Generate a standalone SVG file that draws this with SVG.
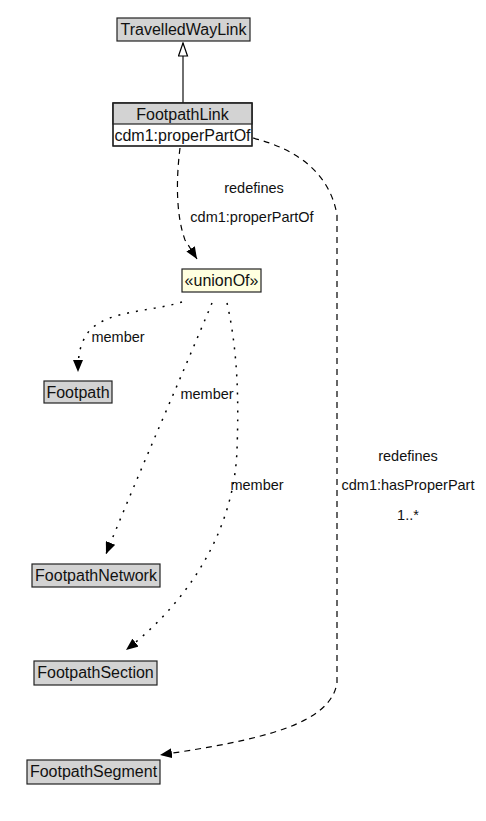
<svg xmlns="http://www.w3.org/2000/svg" width="486" height="821" viewBox="0 0 486 821">
<defs>
<style>
.node rect{stroke:#222;stroke-width:1.2}
.cls{fill:#d3d3d3}
.t{font-family:"Liberation Sans",Arial,sans-serif;font-size:16px;fill:#111;text-anchor:middle}
.l{font-family:"Liberation Sans",Arial,sans-serif;font-size:14.5px;fill:#111;text-anchor:middle}
.dash{fill:none;stroke:#000;stroke-width:1.2;stroke-dasharray:6,5}
.dot{fill:none;stroke:#000;stroke-width:1.5;stroke-dasharray:2,7}
</style>
<marker id="arr" viewBox="0 0 12 10" refX="12" refY="5" markerWidth="12" markerHeight="10" markerUnits="userSpaceOnUse" orient="auto">
<path d="M0,0 L12,5 L0,10 z" fill="#000"/>
</marker>
<marker id="gen" viewBox="0 0 15 11" refX="14" refY="5.5" markerWidth="15" markerHeight="11" markerUnits="userSpaceOnUse" orient="auto">
<path d="M1,1 L14,5.5 L1,10 z" fill="#fff" stroke="#000" stroke-width="1.2"/>
</marker>
</defs>
<rect width="486" height="821" fill="#fff"/>
<g id="connectors">
<path d="M183,103 L183,43" fill="none" stroke="#333" stroke-width="1.4" marker-end="url(#gen)"/>
<path class="dash" d="M180,148 C176,180 176,215 185,240 L197,259" marker-end="url(#arr)"/>
<path class="dash" d="M253,138 C300,150 330,175 337,215 L337,683 C330,725 260,740 160,755" marker-end="url(#arr)"/>
<path class="dot" d="M182,302 C150,312 110,310 90,330 C80,342 78,355 78,372" marker-end="url(#arr)"/>
<path class="dot" d="M212,303 C180,380 140,470 106,554" marker-end="url(#arr)"/>
<path class="dot" d="M227,303 C240,360 238,420 237,450 C234,530 190,600 126,650" marker-end="url(#arr)"/>
</g>
<g id="labels">
<text class="l" x="254" y="193">redefines</text>
<text class="l" x="252" y="222">cdm1:properPartOf</text>
<text class="l" x="118" y="342">member</text>
<text class="l" x="207" y="399">member</text>
<text class="l" x="257" y="490">member</text>
<text class="l" x="408" y="461">redefines</text>
<text class="l" x="408" y="490">cdm1:hasProperPart</text>
<text class="l" x="408" y="520">1..*</text>
</g>
<g id="TravelledWayLink" class="node">
<rect class="cls" x="117" y="18" width="133" height="23"/>
<text class="t" x="183.5" y="35">TravelledWayLink</text>
</g>
<g id="FootpathLink" class="node">
<rect x="113" y="103" width="139" height="43" fill="#fff"/>
<rect x="113" y="103" width="139" height="21" fill="#d3d3d3" stroke="none"/>
<rect x="113" y="103" width="139" height="43" fill="none"/>
<text class="t" x="182.5" y="120">FootpathLink</text>
<text class="t" x="182.5" y="141">cdm1:properPartOf</text>
</g>
<g id="unionOf" class="node">
<rect x="182" y="269" width="79" height="23" fill="#ffffe0"/>
<text class="t" x="221.5" y="286">«unionOf»</text>
</g>
<g id="Footpath" class="node">
<rect class="cls" x="44" y="381" width="68" height="22"/>
<text class="t" x="78" y="398">Footpath</text>
</g>
<g id="FootpathNetwork" class="node">
<rect class="cls" x="32" y="564" width="128" height="23"/>
<text class="t" x="96" y="581">FootpathNetwork</text>
</g>
<g id="FootpathSection" class="node">
<rect class="cls" x="34" y="661" width="123" height="24"/>
<text class="t" x="95.5" y="678">FootpathSection</text>
</g>
<g id="FootpathSegment" class="node">
<rect class="cls" x="27" y="760" width="133" height="24"/>
<text class="t" x="93.5" y="777">FootpathSegment</text>
</g>
</svg>
